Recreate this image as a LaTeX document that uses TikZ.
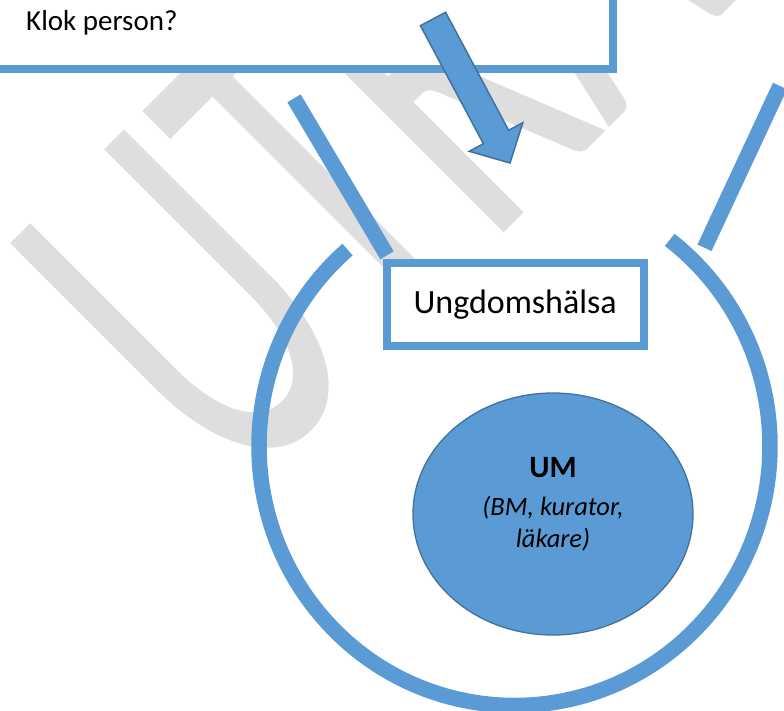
\documentclass[tikz,border=0pt]{standalone}
\usepackage{fontspec}
\usepackage{graphicx}
\usepackage{tikz}
\usetikzlibrary{shapes.geometric}
\setmainfont{Carlito}
\definecolor{ublue}{HTML}{5B9BD5}
\definecolor{udark}{HTML}{41719C}
\definecolor{markgray}{HTML}{DEDEDE}

\begin{document}
\begin{tikzpicture}[x=1pt, y=-1pt, font=\fontsize{29}{35}\selectfont]
    \tikzstyle{box}=[draw=ublue, line width=7.7pt, fill=white]
    \tikzstyle{band}=[draw=ublue, line width=15.5pt]
    \tikzstyle{blockarrow}=[draw=udark, fill=ublue, line width=1.5pt]
    \useasboundingbox (0,0) rectangle (784,710);
    \clip (0,0) rectangle (784,710);

    % watermark
    \node[anchor=base west, rotate=45, inner sep=0, text=markgray] (mark) at (236,501)
      {\scalebox{0.6}[1]{\fontsize{532}{532}\selectfont UTKAST}};

    % top box
    \draw[box] (-20,-20) rectangle (613,69);
    \node[anchor=base west, inner sep=0] (klok) at (26,30) {Klok person?};

    \draw[blockarrow] (420.4,25.7) -- (483.4,143.7) -- (469.2,151.3) -- (510,163)
      -- (522.8,122.7) -- (508.6,130.3) -- (445.6,12.3) -- cycle;

    % open cup
    \coordinate (lefttop) at (294,98.3);
    \coordinate (leftend) at (387,255.3);
    \coordinate (righttop) at (780,86);
    \coordinate (rightend) at (704.5,247.8);
    \coordinate (hub) at (514.5,446);
    \draw[band] (lefttop) -- (leftend);
    \draw[band] (righttop) -- (rightend);
    \draw[band] (hub) ++(-130.8:255.5 and 259.5)
      arc[start angle=-130.8, end angle=-412.6, x radius=255.5, y radius=259.5];

    \node[box, minimum width=257pt, minimum height=83pt,
      font=\fontsize{34}{40}\selectfont] (ungdom) at (515.2,304.8) {Ungdomshälsa};

    \node[ellipse, draw=udark, fill=ublue, line width=1.3pt, inner sep=0,
      minimum width=280pt, minimum height=242pt] (um) at (553,514) {};
    \node[anchor=north, align=center, inner sep=0,
      font=\fontsize{26.5}{32}\selectfont\itshape] (umtext) at (553,457)
      {{\bfseries\upshape\fontsize{31}{31}\selectfont UM}\\[6pt](BM, kurator,\\läkare)};
  \end{tikzpicture}
\end{document}
